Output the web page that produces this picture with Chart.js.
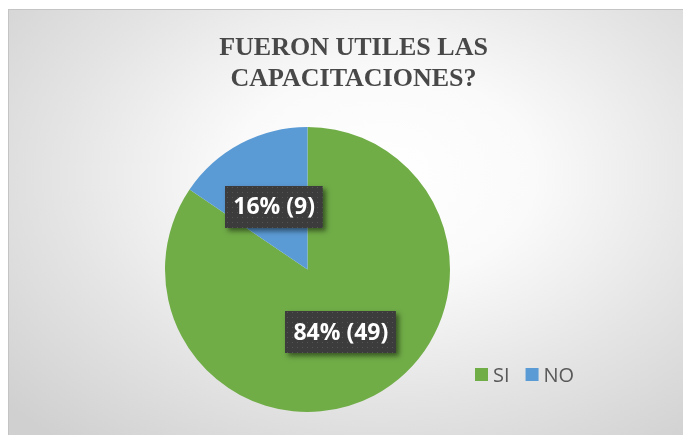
<!DOCTYPE html>
<html>
<head>
<meta charset="utf-8">
<script src="https://cdn.jsdelivr.net/npm/chart.js"></script>
<style>
  html, body { margin: 0; padding: 0; background: #fff; overflow: hidden; }
  #frame {
    position: absolute; left: 8px; top: 9px; width: 720px; height: 460px;
    border: 1px solid #c4c4c4;
    background: radial-gradient(ellipse 70% 75% at 52% 36%, #ffffff 0%, #fafafa 30%, #e4e4e4 65%, #d0d0d0 100%);
  }
  #chart { position: absolute; left: 0; top: 0; }
</style>
</head>
<body>
<div id="frame"></div>
<canvas id="chart" width="683" height="435"></canvas>
<script>
const titleLines = ["FUERON UTILES LAS", "CAPACITACIONES?"];
const categories = ["SI", "NO"];
const counts = [49, 9];
const sliceColors = ["#70AD47", "#5B9BD5"];

const total = counts.reduce((a, b) => a + b, 0);

// small dotted texture for the label boxes
const dotCanvas = document.createElement("canvas");
dotCanvas.width = 5;
dotCanvas.height = 5;
const dctx = dotCanvas.getContext("2d");
dctx.fillStyle = "rgba(255,255,255,0.13)";
dctx.fillRect(2, 2, 1, 1);

// title centred over the whole frame, not over the pie
const shiftTitle = {
  id: "shiftTitle",
  afterLayout(chart) {
    const t = chart.titleBlock;
    if (t) { t.left += 46; t.right += 46; }
  }
};

const labelBoxes = {
  id: "labelBoxes",
  afterDatasetsDraw(chart) {
    const ctx = chart.ctx;
    const dots = ctx.createPattern(dotCanvas, "repeat");
    ctx.save();
    ctx.font = 'bold 23px "Open Sans"';
    chart.getDatasetMeta(0).data.forEach((arc, i) => {
      const p = arc.tooltipPosition();
      const text = Math.round(counts[i] / total * 100) + "% (" + counts[i] + ")";
      const w = ctx.measureText(text).width + 16;
      const h = 42;
      const x = Math.round(p.x - w / 2), y = Math.round(p.y - h / 2);
      ctx.shadowColor = "rgba(0,0,0,0.5)";
      ctx.shadowBlur = 5;
      ctx.shadowOffsetX = 3;
      ctx.shadowOffsetY = 3;
      ctx.fillStyle = "#3c3c3c";
      ctx.fillRect(x, y, w, h);
      ctx.shadowColor = "transparent";
      ctx.fillStyle = dots;
      ctx.fillRect(x, y, w, h);
      ctx.fillStyle = "#ffffff";
      ctx.textAlign = "center";
      ctx.textBaseline = "middle";
      ctx.fillText(text, p.x, p.y + 1);
    });
    ctx.restore();
  }
};

const legendRow = {
  id: "legendRow",
  afterDraw(chart) {
    const ctx = chart.ctx;
    ctx.save();
    ctx.font = '20px "Open Sans"';
    ctx.textBaseline = "middle";
    let x = 475;
    const y = 375;
    categories.forEach((c, i) => {
      ctx.fillStyle = sliceColors[i];
      ctx.fillRect(x, y - 7, 13, 13);
      ctx.fillStyle = "#595959";
      ctx.fillText(c, x + 18, y + 1);
      x += 18 + ctx.measureText(c).width + 16;
    });
    ctx.restore();
  }
};

new Chart(document.getElementById("chart"), {
  type: "pie",
  data: {
    labels: categories,
    datasets: [{
      data: counts,
      backgroundColor: sliceColors,
      borderWidth: 0,
      hoverOffset: 0
    }]
  },
  options: {
    responsive: false,
    animation: false,
    layout: { padding: { left: 0, right: 68, top: 22.6, bottom: 23 } },
    plugins: {
      legend: { display: false },
      tooltip: { enabled: false },
      title: {
        display: true,
        text: titleLines,
        color: "#484848",
        font: { family: '"Liberation Serif", "Times New Roman", serif', size: 26, weight: "bold", lineHeight: 1.2 },
        padding: { top: 10, bottom: 32 }
      }
    }
  },
  plugins: [shiftTitle, labelBoxes, legendRow]
});
</script>
</body>
</html>
